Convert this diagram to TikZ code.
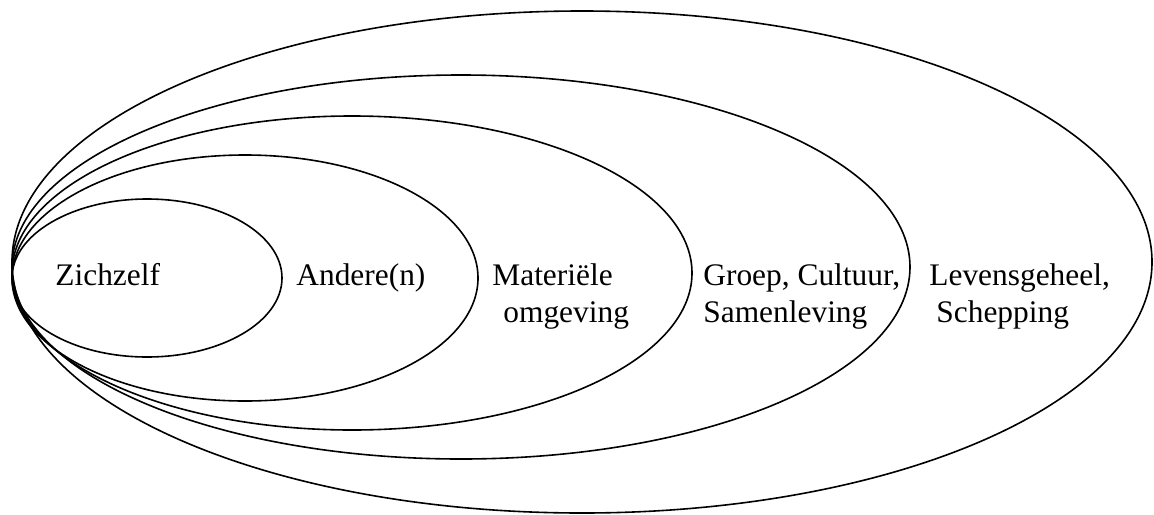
\documentclass[tikz,border=0pt]{standalone}
\usepackage{fontspec}
\setmainfont{Liberation Serif}
\tikzset{
  ring/.style={black,line width=0.8pt},
  lbl/.style={anchor=base west,inner sep=0pt,font=\fontsize{15.7}{18}\selectfont}
}

\begin{document}
\begin{tikzpicture}[x=0.5pt,y=-0.5pt]
			\useasboundingbox (0,0) rectangle (1154,514);
			% \draw[help lines,step=100] (0,0) grid (1154,514);
			\foreach \cx/\cy/\rx/\ry in {147/278/135/79,245/278/233/123,352/273/340/157,461/267/449/192,582/262/570/251}{
				\draw[ring] (\cx,\cy) ellipse[x radius=\rx,y radius=\ry];
			}
			\node[lbl] (zelf) at (55,285) {Zichzelf};
			\node[lbl] (andere) at (296,285) {Andere(n)};
			\node[lbl] (materie) at (492,285) {Materiële};
			\node[lbl] (omgeving) at (503,322) {omgeving};
			\node[lbl] (groep) at (703,285) {Groep, Cultuur,};
			\node[lbl] (samen) at (703,322) {Samenleving};
			\node[lbl] (leven) at (929,285) {Levensgeheel,};
			\node[lbl] (schep) at (936,322) {Schepping};
		\end{tikzpicture}
\end{document}
